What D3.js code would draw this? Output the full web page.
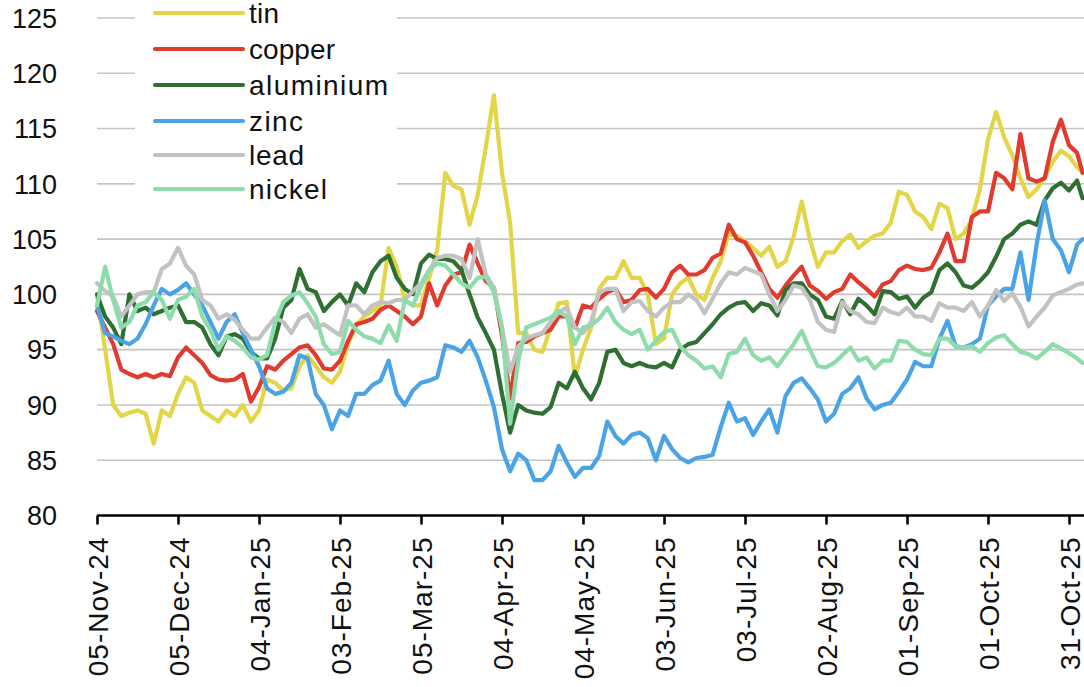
<!DOCTYPE html>
<html><head><meta charset="utf-8">
<script src="https://cdn.jsdelivr.net/npm/d3@7"></script>
<style>html,body{margin:0;padding:0;background:#fff;}svg{display:block;font-family:"Liberation Sans",Arial,sans-serif;}</style>
</head><body>
<svg id="c" width="1084" height="687"></svg>
<script>
// 3-day sampling grid from 05-Nov-24, plus the last observation on 05-Nov-25
const startDate = new Date(2024, 10, 5);
const dates = d3.timeDay.range(startDate, new Date(2025, 10, 4), 3);
dates.push(new Date(2025, 10, 5));

const tickLabels = ["05-Nov-24","05-Dec-24","04-Jan-25","03-Feb-25","05-Mar-25","04-Apr-25","04-May-25","03-Jun-25","03-Jul-25","02-Aug-25","01-Sep-25","01-Oct-25","31-Oct-25"];
const yTicks = [80,85,90,95,100,105,110,115,120,125];

const tin = [
 100,95,90,89,89.3,89.5,89.2,86.5,89.5,89,
 91,92.5,92,89.5,89,88.5,89.5,89,90,88.5,
 89.5,92.3,92,91.3,91.5,93.5,94.5,93.5,92.5,92,
 93,95.5,97.2,98,98.5,99,104.2,102.5,99.5,99,
 99,101.5,104,111,109.8,109.5,106.3,109,113.3,118,
 111,106.5,96.5,96.5,95,94.8,97,99.2,99.3,92.5,
 95,97,100.5,101.5,101.5,103,101.5,101.5,100,95.5,
 96,100,101,101.5,100,99.5,101.5,103,105.5,105.3,
 104.8,104.2,103.5,104.3,102.5,103,105.2,108.4,105,102.5,
 103.8,103.8,104.8,105.4,104.2,104.8,105.3,105.5,106.5,109.3,
 109,107.5,107,105.9,108.2,107.8,105,105.5,106.8,109.5,
 114,116.5,114.2,112.6,110.5,108.8,109.5,110.6,112,113,
 112.5,111.5,111];

const copper = [
 98.5,97,95.5,93.2,92.8,92.5,92.8,92.5,92.8,92.6,
 94.3,95.2,94.5,93.8,92.7,92.3,92.2,92.3,92.8,90.3,
 91.6,93.5,93.2,94,94.6,95.2,95.4,94.5,93.3,93.2,
 94,95.8,97.3,97.5,97.8,98.6,99,98.5,98,97.3,
 98,101,99,100.8,101.8,102,104.5,102.8,101.2,100.6,
 96.3,90.6,95.6,95.7,96.2,96.5,96.8,98,98,97,
 99,98.8,99.6,100.2,100.5,99.3,99.5,100.4,100.5,99.7,
 100.5,102,102.6,101.8,101.8,102.2,103.3,103.7,106.3,105,
 104.7,103.5,102,100.5,99.7,100.8,101.7,102.5,100.8,100.3,
 99.6,100.2,100.5,101.8,101.1,100.5,99.8,100.9,101.2,102.2,
 102.6,102.3,102.2,102.4,103.8,105.5,103,103,107,107.5,
 107.5,111,110.5,109.5,114.5,110.5,110.2,110.5,113.8,115.8,
 113.5,112.8,111];

const aluminium = [
 100,98,97,95.5,100,98.5,98.8,98.2,98.5,98.8,
 99,97.5,97.5,97,95.5,94.5,96.2,96.4,96,94.8,
 94.2,94.2,96,98.8,99.5,102.3,100.5,100.2,98.5,99.3,
 100,99,101,100.2,102,103,103.5,101.5,100.5,100,
 102.8,103.6,103.2,103.2,103,102.2,100,97.9,96.5,95,
 91,87.5,90,89.5,89.3,89.2,89.8,92,91.5,93,
 91.5,90.5,92,94.8,95,93.8,93.5,93.8,93.5,93.4,
 93.8,93.4,95,95.5,95.7,96.5,97.3,98.2,98.8,99.2,
 99.3,98.5,99.2,99,98.1,100.4,101,101,100,99.5,
 98,97.8,99.4,98.2,99.6,99,98.2,100.3,100.2,99.6,
 99.8,98.8,99.7,100.2,102.2,102.8,102,100.8,100.6,101.2,
 102,103.4,105,105.5,106.3,106.6,106.3,108.5,109.6,110.1,
 109.4,110.3,108.7];

const zinc = [
 99,96.5,96.2,95.8,95.5,96,97.3,99,100.5,100,
 100.4,101,100,99,97.5,96,97.5,98.2,96.5,95,
 93.5,91.5,91,91.2,92,94.5,94.2,91,90,87.8,
 89.5,89,91,91,91.8,92.2,94,91,90,91.3,
 92,92.2,92.5,95.4,95.2,94.8,95.8,94.3,92.2,89.8,
 86,84,85.6,85,83.2,83.2,84,86.3,84.8,83.5,
 84.3,84.3,85.4,88.5,87.2,86.5,87.3,87.5,87,85,
 87.2,86,85.2,84.8,85.2,85.3,85.5,88,90.2,88.5,
 88.8,87.3,88.5,89.6,87.5,90.8,92,92.4,91.5,90.5,
 88.5,89.2,91,91.5,92.5,90.6,89.6,90,90.2,91.2,
 92.3,93.9,93.5,93.5,96,97.6,95.3,95.2,95.5,96,
 99,99.8,100.5,100.5,103.8,99.5,104.5,108.5,105,104,
 102,104.5,105];

const lead = [
 101,100.3,99.8,98,99,100,100.2,100.2,102.3,102.8,
 104.2,102.6,101.8,99.5,99,97.8,98.2,97.7,96.8,96,
 96,97,97.9,97.5,96.5,97.8,98.2,97,97.3,96.8,
 96.3,99,99,98.2,99,99.3,99.2,99.5,99.5,100.3,
 101,102.2,103.3,103.5,103.5,103.2,101.5,105,101.8,100.6,
 97,93,95.3,96,96.3,96.5,97.5,98.4,98.8,97,
 96.5,97.5,100.2,100.5,100.5,98.5,99.3,99.4,98.5,98,
 98.8,99.3,99.3,100,99.5,98.3,99.6,101,102,101.8,
 102.4,102.1,101.8,100,98.5,99.5,100.8,100.6,99.5,97.5,
 96.8,96.6,99.3,98.5,98.2,97.5,97.4,98.8,98.4,98.2,
 98.8,98,98,97.6,99.2,98.8,98.8,98.5,99.3,98,
 99,100.4,99.4,100.1,98.9,97.1,98,98.8,99.9,100.2,
 100.5,100.9,101];

const nickel = [
 99,102.5,99.5,97,97.5,99,99.3,100.2,99.5,97.8,
 99.5,99.8,100.5,98,96.8,95,96.2,95.8,95.2,94.3,
 94.1,94.5,97.5,99.3,99.9,100.2,99.2,98,95.5,94.6,
 94.8,97.6,96.8,96.2,96,95.6,97.2,95.8,99.5,99,
 100.7,102.2,102.8,102.6,101.8,101,100.6,101.5,101.6,100.2,
 97,88.3,94,97,97.3,97.6,97.9,98.5,98,95.5,
 97,97.2,97.8,98.8,97.5,96.8,96.4,96.8,95,95.8,
 96.6,96.8,95.3,94.5,94,93.3,93.5,92.5,94.6,94.8,
 96,94.5,94,94.3,93.5,94.5,95.5,96.7,95,93.5,
 93.4,93.8,94.5,95.2,94,94.3,93.3,94,94,95.8,
 95.7,95,94.6,94.5,96,96,95.3,95.2,95.3,94.8,
 95.6,96.1,96.3,95.5,94.8,94.6,94.2,94.8,95.5,95.1,
 94.7,94.2,93.8];

const seriesNames = ["tin","copper","aluminium","zinc","lead","nickel"];
const seriesValues = [tin, copper, aluminium, zinc, lead, nickel];
const seriesColors = ["#e2d547","#e03b2f","#2f6f31","#4aa3e6","#c2c2c2","#8edcab"];
const legendTextWidths = [30, 86, 139, 54, 55, 78];

const svg = d3.select("#c");
const W = 1084;
const parseTick = d3.timeParse("%d-%b-%y");

const x = d3.scaleTime()
  .domain([parseTick("05-Nov-24"), parseTick("31-Oct-25")])
  .range([97, 1069]);
const y = d3.scaleLinear().domain([80, 125]).range([515.5, 18]);

// gridlines
svg.append("g").selectAll("line").data(yTicks.filter(v => v > 80)).join("line")
  .attr("x1", 97).attr("x2", W).attr("y1", d => y(d)).attr("y2", d => y(d))
  .attr("stroke", "#c4c4c4").attr("stroke-width", 1.6);

// y labels
svg.append("g").selectAll("text").data(yTicks).join("text")
  .attr("x", 57).attr("y", d => y(d)).attr("dy", "0.36em")
  .attr("text-anchor", "end").attr("font-size", 27).attr("fill", "#111")
  .text(d => d);

// series lines
const line = d3.line().x((d, i) => x(dates[i])).y(d => y(d));
svg.append("g").selectAll("path").data(seriesValues).join("path")
  .attr("d", d => line(d))
  .attr("fill", "none")
  .attr("stroke", (d, i) => seriesColors[i])
  .attr("stroke-width", 4.2)
  .attr("stroke-linejoin", "round")
  .attr("stroke-linecap", "round");

// x axis
const xAxis = d3.axisBottom(x)
  .tickValues(tickLabels.map(parseTick))
  .tickFormat(d3.timeFormat("%d-%b-%y"))
  .tickSize(9).tickSizeOuter(0);
const gx = svg.append("g").attr("transform", `translate(0,${y(80)})`).call(xAxis);
gx.select(".domain").attr("d", `M97,0H${W}`).attr("stroke", "#000").attr("stroke-width", 2.6);
gx.selectAll(".tick line").attr("stroke", "#000").attr("stroke-width", 2.6);
gx.selectAll(".tick text")
  .attr("font-size", 28).attr("font-family", "'Liberation Sans', Arial, sans-serif").attr("fill", "#111")
  .attr("text-anchor", "end")
  .attr("transform", "rotate(-90)")
  .attr("x", -21).attr("y", 0).attr("dy", "0.36em")
  .style("letter-spacing", "1px");

// legend
const lg = svg.append("g");
lg.append("rect").attr("x", 135).attr("y", 0).attr("width", 262).attr("height", 206).attr("fill", "#fff");
const legY = [13, 49, 85, 121, 155, 189];
seriesNames.forEach((n, i) => {
  lg.append("line").attr("x1", 155).attr("x2", 243).attr("y1", legY[i]).attr("y2", legY[i])
    .attr("stroke", seriesColors[i]).attr("stroke-width", 4.2).attr("stroke-linecap", "round");
  lg.append("text").attr("x", 249).attr("y", legY[i]).attr("dy", "0.36em")
    .attr("font-size", 28).attr("fill", "#111")
    .attr("textLength", legendTextWidths[i]).attr("lengthAdjust", "spacing")
    .text(n);
});
</script>
</body></html>
